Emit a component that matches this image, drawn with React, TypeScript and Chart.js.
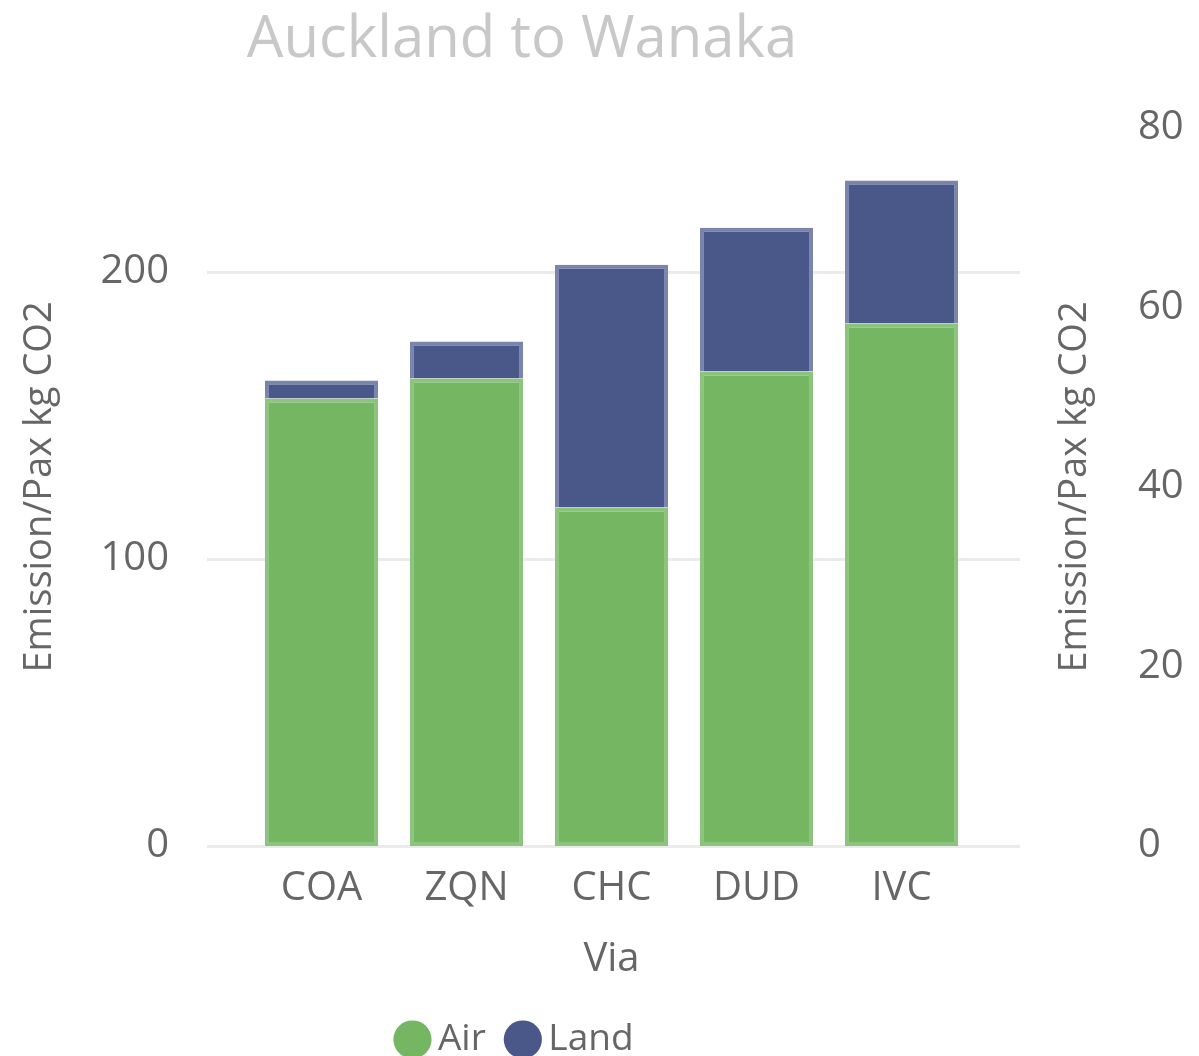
import { useEffect, useRef } from 'react';
import { Chart, registerables } from 'chart.js';

Chart.register(...registerables);

const chartTitle = 'Auckland to Wanaka';
const categories = ['COA', 'ZQN', 'CHC', 'DUD', 'IVC'];
const seriesNames = ['Air', 'Land'];
const airValues = [155.8, 162.8, 117.9, 165.2, 181.9];
const landValues = [6.3, 12.9, 84.5, 50.1, 49.8];
const leftTicks = [0, 100, 200];
const rightTicks = [0, 20, 40, 60, 80];
const xTitle = 'Via';
const yTitle = 'Emission/Pax kg CO2';

const FAMILY = '"Open Sans", "Noto Sans", sans-serif';
const TEXT = '#666666';

const extGridPlugin = {
  id: 'extGrid',
  beforeDatasetsDraw(chart: any) {
    const { ctx, chartArea, scales } = chart;
    const y = scales.y;
    ctx.save();
    ctx.strokeStyle = '#ebebeb';
    ctx.lineWidth = 3;
    y.ticks.forEach((t: any) => {
      const py = Math.round(y.getPixelForValue(t.value)) + 0.5;
      ctx.beginPath();
      ctx.moveTo(chartArea.left - 42, py);
      ctx.lineTo(chartArea.right + 46, py);
      ctx.stroke();
    });
    ctx.restore();
  },
};

const rightTitlePlugin = {
  id: 'rightTitle',
  afterDraw(chart: any) {
    const { ctx, chartArea } = chart;
    ctx.save();
    ctx.translate(chartArea.right + 101, (chartArea.top + chartArea.bottom) / 2);
    ctx.rotate(-Math.PI / 2);
    ctx.font = `38px ${FAMILY}`;
    ctx.fillStyle = TEXT;
    ctx.textAlign = 'center';
    ctx.textBaseline = 'middle';
    ctx.fillText(yTitle, 0, 0);
    ctx.restore();
  },
};

const shiftPlugin = {
  id: 'shiftBoxes',
  afterLayout(chart: any) {
    if (chart.titleBlock) chart.titleBlock.right -= 155;
    if (chart.legend) chart.legend.right -= 160;
  },
};

const noPad = (s: any) => {
  s.paddingTop = 0;
  s.paddingBottom = 0;
  s.paddingLeft = 0;
  s.paddingRight = 0;
};

export default function App() {
  const ref = useRef<HTMLCanvasElement>(null);

  useEffect(() => {
    const html = document.documentElement;
    const prevHtml = html.style.overflow;
    const prevBody = document.body.style.overflow;
    html.style.overflow = 'hidden';
    document.body.style.overflow = 'hidden';

    const chart = new Chart(ref.current as HTMLCanvasElement, {
      type: 'bar',
      data: {
        labels: categories,
        datasets: [
          {
            label: seriesNames[0],
            data: airValues,
            backgroundColor: '#74b662',
            borderColor: '#8dc47d',
            borderWidth: 4,
            borderSkipped: false,
            yAxisID: 'y',
          },
          {
            label: seriesNames[1],
            data: landValues,
            backgroundColor: '#4a5889',
            borderColor: '#7a85ad',
            borderWidth: 4,
            borderSkipped: 'start',
            yAxisID: 'y',
          },
        ],
      },
      options: {
        responsive: false,
        animation: false,
        devicePixelRatio: 1,
        datasets: { bar: { categoryPercentage: 1, barPercentage: 0.78 } },
        layout: { padding: 0 },
        plugins: {
          tooltip: { enabled: false },
          title: {
            display: true,
            text: chartTitle,
            color: '#c8c8c8',
            font: { family: FAMILY, size: 58, weight: 'normal', lineHeight: 1 },
            padding: { top: 3, bottom: 59 },
          },
          legend: {
            display: true,
            position: 'bottom',
            labels: {
              usePointStyle: true,
              pointStyle: 'circle',
              boxWidth: 14,
              boxHeight: 27,
              padding: 30,
              color: TEXT,
              font: { family: FAMILY, size: 37 },
              generateLabels: (c: any) =>
                Chart.defaults.plugins.legend.labels
                  .generateLabels(c)
                  .map((item: any) => ({ ...item, lineWidth: 0, strokeStyle: item.fillStyle })),
            },
          },
        },
        scales: {
          x: {
            stacked: true,
            afterFit: (s: any) => {
              s.height = 145;
              noPad(s);
            },
            grid: { display: false, drawTicks: false },
            border: { display: false },
            ticks: {
              color: TEXT,
              font: { family: FAMILY, size: 40 },
              padding: 19,
              maxRotation: 0,
              autoSkip: false,
            },
            title: {
              display: true,
              text: xTitle,
              color: TEXT,
              font: { family: FAMILY, size: 40 },
              padding: { top: 0, bottom: 7 },
            },
          },
          y: {
            position: 'left',
            stacked: true,
            min: 0,
            max: 250,
            afterBuildTicks: (s: any) => {
              s.ticks = leftTicks.map((v) => ({ value: v }));
            },
            afterFit: (s: any) => {
              s.width = 241;
              noPad(s);
            },
            grid: { display: false, drawTicks: false },
            border: { display: false },
            ticks: {
              color: TEXT,
              font: { family: FAMILY, size: 40 },
              padding: 80,
            },
            title: {
              display: true,
              text: yTitle,
              color: TEXT,
              font: { family: FAMILY, size: 38 },
              padding: { top: 9, bottom: 0 },
            },
          },
          y1: {
            position: 'right',
            min: 0,
            max: 80,
            afterBuildTicks: (s: any) => {
              s.ticks = rightTicks.map((v) => ({ value: v }));
            },
            afterFit: (s: any) => {
              s.width = 217;
              noPad(s);
            },
            grid: { display: false, drawTicks: false },
            border: { display: false },
            ticks: {
              color: TEXT,
              font: { family: FAMILY, size: 40 },
              padding: 164,
            },
          },
        },
      } as any,
      plugins: [extGridPlugin, rightTitlePlugin, shiftPlugin],
    });

    return () => {
      chart.destroy();
      html.style.overflow = prevHtml;
      document.body.style.overflow = prevBody;
    };
  }, []);

  return <canvas ref={ref} width={1183} height={1060} style={{ display: 'block' }} />;
}
